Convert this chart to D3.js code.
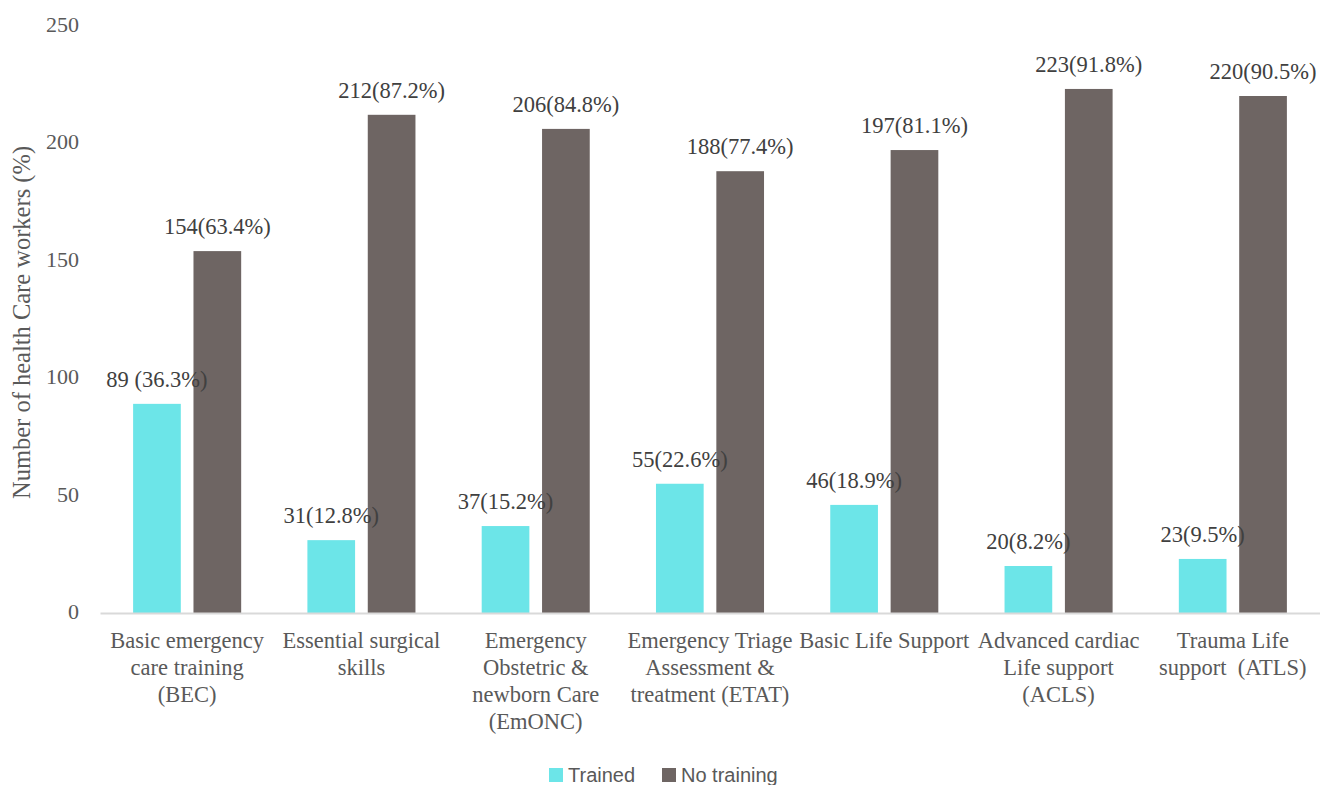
<!DOCTYPE html>
<html><head><meta charset="utf-8">
<script src="https://cdn.jsdelivr.net/npm/d3@7"></script>
<style>
html,body{margin:0;padding:0;background:#fff;}
svg{display:block;}
.serif{font-family:"Liberation Serif","DejaVu Serif",serif;}
</style></head>
<body>
<svg id="chart" width="1320" height="785"></svg>
<script>
const categories = [
  "Basic emergency\ncare training\n(BEC)",
  "Essential surgical\nskills",
  "Emergency\nObstetric &\nnewborn Care\n(EmONC)",
  "Emergency Triage\nAssessment &\ntreatment (ETAT)",
  "Basic Life Support",
  "Advanced cardiac\nLife support\n(ACLS)",
  "Trauma Life\nsupport  (ATLS)"
];
const seriesNames = ["Trained", "No training"];
const trained = [89, 31, 37, 55, 46, 20, 23];
const noTraining = [154, 212, 206, 188, 197, 223, 220];
const trainedLabels = ["89 (36.3%)", "31(12.8%)", "37(15.2%)", "55(22.6%)", "46(18.9%)", "20(8.2%)", "23(9.5%)"];
const noTrainingLabels = ["154(63.4%)", "212(87.2%)", "206(84.8%)", "188(77.4%)", "197(81.1%)", "223(91.8%)", "220(90.5%)"];
const yTicks = [0, 50, 100, 150, 200, 250];
const colors = ["#6ce5e8", "#6e6563"];

const svg = d3.select("#chart");
const margin = {left: 100, right: 0, top: 25.5, bottom: 172};
const W = 1320, H = 785;
const plotBottom = H - margin.bottom; // 613

const x0 = d3.scaleBand().domain(categories).range([margin.left, W - margin.right]).paddingInner(0.38).paddingOuter(0.19);
const x1 = d3.scaleBand().domain(seriesNames).range([0, x0.bandwidth()]).paddingInner(0.21);
const y = d3.scaleLinear().domain([0, 250]).range([plotBottom, margin.top]);

// y axis labels
const yAxis = d3.axisLeft(y).tickValues(yTicks).tickSize(0).tickPadding(0);
const yg = svg.append("g").attr("transform", `translate(79,-1.5)`).call(yAxis);
yg.select(".domain").remove();
yg.attr("font-family", null).attr("font-size", null);
yg.selectAll("text").attr("class", "serif").style("font-size", "22px").attr("fill", "#595959");

// bars
const data = categories.map((c, i) => ({cat: c, vals: [
  {s: seriesNames[0], v: trained[i], label: trainedLabels[i]},
  {s: seriesNames[1], v: noTraining[i], label: noTrainingLabels[i]}
]}));

const groups = svg.append("g").selectAll("g").data(data).join("g")
  .attr("transform", d => `translate(${x0(d.cat)},0)`);
groups.selectAll("rect").data(d => d.vals).join("rect")
  .attr("x", d => x1(d.s)).attr("width", x1.bandwidth())
  .attr("y", d => y(d.v)).attr("height", d => plotBottom - y(d.v))
  .attr("fill", (d, i) => colors[i]);

// x axis line
const xAxis = d3.axisBottom(x0).tickSize(0).tickFormat("");
const xg = svg.append("g").attr("transform", `translate(0,${plotBottom})`).call(xAxis);
xg.select(".domain").attr("stroke", "#d9d9d9").attr("stroke-width", 2);

// data labels
groups.selectAll("text.dl").data(d => d.vals).join("text").attr("class", "dl serif")
  .attr("x", d => x1(d.s) + x1.bandwidth() / 2)
  .attr("y", d => y(d.v) - 17)
  .attr("text-anchor", "middle")
  .style("font-size", "22.5px").attr("fill", "#404040")
  .text(d => d.label);

// category labels
const catG = svg.append("g");
categories.forEach(c => {
  const cx = x0(c) + x0.bandwidth() / 2;
  const t = catG.append("text").attr("class", "serif").attr("x", cx).attr("y", plotBottom + 35)
    .attr("text-anchor", "middle").style("font-size", "22.5px").attr("fill", "#595959")
    .style("white-space", "pre");
  c.split("\n").forEach((line, j) => {
    t.append("tspan").attr("x", cx).attr("dy", j === 0 ? 0 : 27).text(line);
  });
});

// y axis title
svg.append("text").attr("class", "serif")
  .attr("transform", `translate(30,${(22 + plotBottom) / 2 + 5}) rotate(-90)`)
  .attr("text-anchor", "middle").style("font-size", "24.5px").attr("fill", "#595959")
  .text("Number of health Care workers (%)");

// legend
const legend = svg.append("g").attr("transform", "translate(549,766)");
const legItems = [{name: seriesNames[0], x: 0}, {name: seriesNames[1], x: 113}];
legItems.forEach((it, i) => {
  legend.append("rect").attr("x", it.x).attr("y", 2).attr("width", 14).attr("height", 14).attr("fill", colors[i]);
  legend.append("text").attr("x", it.x + 19).attr("y", 16)
    .style("font-family", "'Liberation Sans Narrow', 'Arial Narrow', 'Liberation Sans', sans-serif")
    .style("font-size", "20px").attr("fill", "#595959").text(it.name);
});
</script>
</body></html>
